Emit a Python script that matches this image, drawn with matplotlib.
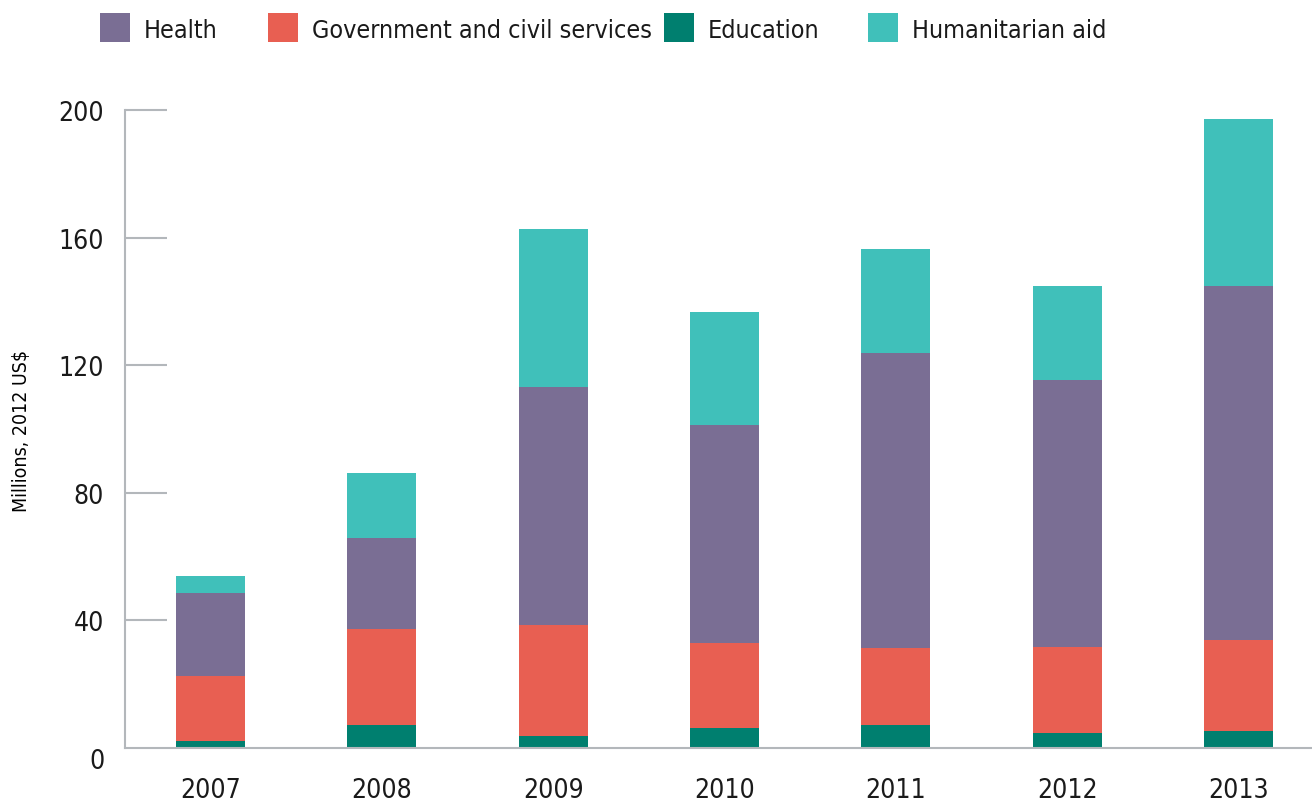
import numpy as np
import matplotlib
matplotlib.use("Agg")
import matplotlib.pyplot as plt
from matplotlib import font_manager
from matplotlib.patches import Rectangle

years = ["2007", "2008", "2009", "2010", "2011", "2012", "2013"]
education = [2.2, 7.2, 3.8, 6.3, 7.2, 4.7, 5.3]
government = [20.4, 30.2, 34.8, 26.7, 24.2, 27.0, 28.6]
health = [26.1, 28.5, 74.7, 68.4, 92.3, 83.8, 110.8]
humanitarian = [5.3, 20.4, 49.3, 35.2, 32.7, 29.2, 52.5]

legend_labels = ["Health", "Government and civil services", "Education", "Humanitarian aid"]

c_health = "#7a6e94"
c_gov = "#e85f52"
c_edu = "#007f6f"
c_hum = "#40c0ba"
c_axis = "#b3b7bb"

# condensed face if the system has one, otherwise a narrower size of Roboto
cond = [f for f in font_manager.fontManager.ttflist
        if f.name == "DejaVu Sans" and f.stretch == "condensed"]
if cond:
    plt.rcParams['font.family'] = ['DejaVu Sans']
    plt.rcParams['font.stretch'] = 'condensed'
    fs = 18
else:
    plt.rcParams['font.family'] = ['Roboto', 'DejaVu Sans']
    fs = 16
plt.rcParams['text.color'] = '#1a1a1a'

W, H = 1312, 803
fig = plt.figure(figsize=(W / 100, H / 100), dpi=100)
ax = fig.add_axes([125 / W, 1 - 749 / H, 1 - 125 / W, (749 - 111) / H])

x = np.arange(len(years))
w = 0.403
b1 = np.array(education)
b2 = b1 + np.array(government)
b3 = b2 + np.array(health)
ax.bar(x, education, w, color=c_edu)
ax.bar(x, government, w, bottom=b1, color=c_gov)
ax.bar(x, health, w, bottom=b2, color=c_health)
ax.bar(x, humanitarian, w, bottom=b3, color=c_hum)

ax.set_xlim(-0.5, 6.43)
ax.set_ylim(0, 200)
ax.set_yticks([0, 40, 80, 120, 160, 200])
ax.set_xticks(x)
ax.set_xticklabels(years)

for s in ["top", "right"]:
    ax.spines[s].set_visible(False)
for s in ["left", "bottom"]:
    ax.spines[s].set_color(c_axis)
    ax.spines[s].set_linewidth(1.5)

ax.tick_params(axis="y", direction="in", length=30, width=1.5, color=c_axis,
               labelsize=fs + 1, pad=15, labelcolor="#1a1a1a")
ax.tick_params(axis="x", length=0, labelsize=fs + 1, pad=21, labelcolor="#1a1a1a")
# zero label sits a bit lower than the axis
for lbl in ax.get_yticklabels():
    if lbl.get_text() == "0":
        lbl.set_va("top")
ax.yaxis.get_major_ticks()[0].tick1line.set_visible(False)

ax.set_ylabel("Millions, 2012 US$", fontsize=fs - 4)
ax.yaxis.set_label_coords(31 / W, 1 - 431 / H, transform=fig.transFigure)

# legend drawn by hand so the swatches line up with the original
sw_x = [100, 268, 664, 868]
for px, lab, col in zip(sw_x, legend_labels, [c_health, c_gov, c_edu, c_hum]):
    fig.add_artist(Rectangle((px / W, 1 - 43 / H), 30 / W, 29 / H,
                             transform=fig.transFigure, color=col, lw=0))
    fig.text((px + 44) / W, 1 - 31 / H, lab, fontsize=fs, va="center", ha="left")

fig.savefig("out.png", dpi=100)
